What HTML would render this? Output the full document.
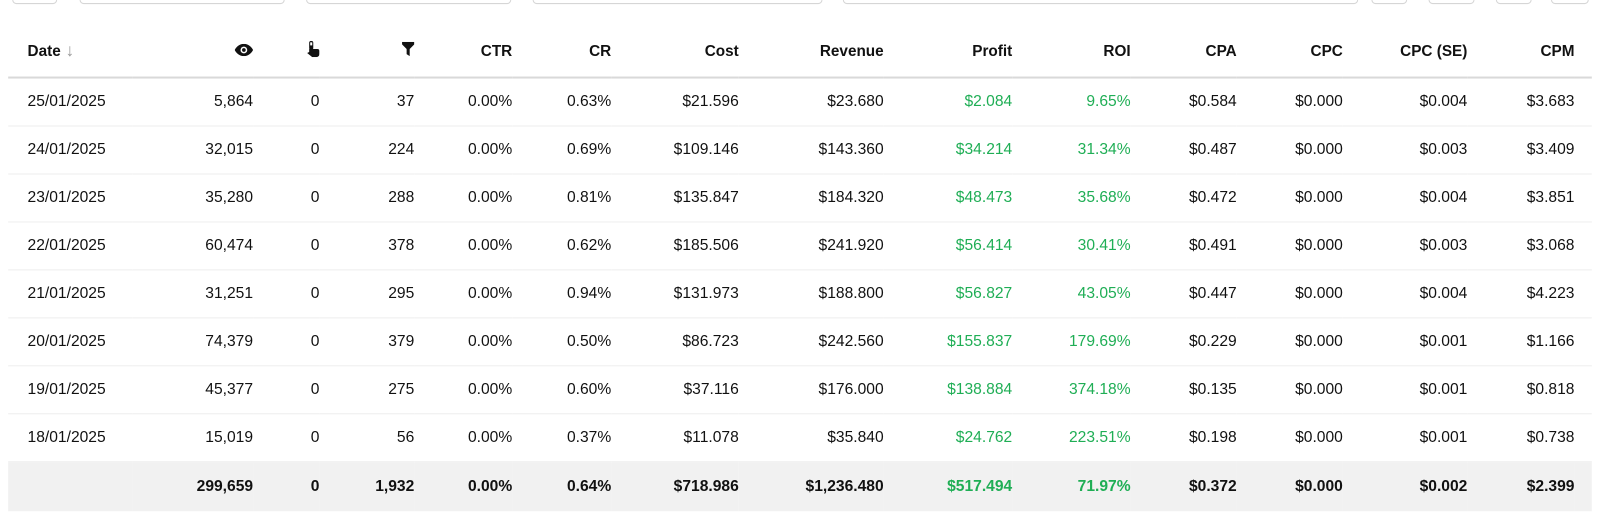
<!DOCTYPE html><html><head><meta charset="utf-8"><style>
body{margin:0;width:1600px;height:512px;background:#fff;font-family:"Liberation Sans",Arial,sans-serif;position:relative;overflow:hidden}
#w{position:absolute;left:0;top:0;width:1568px;height:502px;transform:scale(1.0204);transform-origin:0 0}
.box{position:absolute;top:-20px;height:22px;border:1px solid #d6d6d6;border-radius:4px;background:#fff}
table{position:absolute;left:8px;top:25px;border-collapse:collapse;table-layout:fixed;width:1552px;font-size:15.3px;color:#111}
td,th{padding:0;text-align:right;white-space:nowrap}
th{height:50px;font-weight:bold;font-size:15px;border-bottom:2px solid #d9d9d9}
td{height:46px;border-bottom:1px solid #eee}
.d{text-align:left;padding-left:19px}
.g{color:#1fae55}
tr.f td{background:#f1f1f1;font-weight:bold;height:48px;border:none}
</style></head><body><div id="w">
<div class="box" style="left:12px;width:42px"></div>
<div class="box" style="left:78px;width:199px"></div>
<div class="box" style="left:300px;width:199px"></div>
<div class="box" style="left:522px;width:282px"></div>
<div class="box" style="left:826px;width:503px"></div>
<div class="box" style="left:1344px;width:33px"></div>
<div class="box" style="left:1400px;width:43px"></div>
<div class="box" style="left:1466px;width:33px"></div>
<div class="box" style="left:1520px;width:35px"></div>
<table>
<colgroup><col style="width:122px"><col style="width:118px"><col style="width:65px"><col style="width:93px"><col style="width:96px"><col style="width:97px"><col style="width:125px"><col style="width:142px"><col style="width:126px"><col style="width:116px"><col style="width:104px"><col style="width:104px"><col style="width:122px"><col style="width:105px"><col style="width:17px"></colgroup>
<tr><th class="d">Date<span style="color:#999;font-weight:normal;font-size:17px"> ↓</span></th>
<th><svg width="18" height="12" viewBox="0 0 18 12"><path d="M9 0C4 0 1 4 0 6c1 2 4 6 9 6s8-4 9-6c-1-2-4-6-9-6z" fill="#111"/><circle cx="9" cy="6" r="3.3" fill="#fff"/><circle cx="9" cy="6" r="1.8" fill="#111"/></svg></th>
<th><svg width="12" height="16" viewBox="0 0 12 16"><rect x="2" y="0" width="4" height="9" rx="2" fill="#111"/><rect x="3" y="1.5" width="2" height="3" fill="#fff"/><path d="M2 8h8a2 2 0 0 1 2 2v3a3 3 0 0 1-3 3H5L0 12l2-1z" fill="#111"/></svg></th>
<th><svg width="12" height="14" viewBox="0 0 12 14"><path d="M0 0h12v2.5L7.5 7v7L4.5 12V7L0 2.5z" fill="#111"/></svg></th>
<th>CTR</th><th>CR</th><th>Cost</th><th>Revenue</th><th>Profit</th><th>ROI</th><th>CPA</th><th>CPC</th><th>CPC (SE)</th><th>CPM</th><th></th></tr>
<tr><td class="d">25/01/2025</td><td>5,864</td><td>0</td><td>37</td><td>0.00%</td><td>0.63%</td><td>$21.596</td><td>$23.680</td><td class="g">$2.084</td><td class="g">9.65%</td><td>$0.584</td><td>$0.000</td><td>$0.004</td><td>$3.683</td><td></td></tr>
<tr><td class="d">24/01/2025</td><td>32,015</td><td>0</td><td>224</td><td>0.00%</td><td>0.69%</td><td>$109.146</td><td>$143.360</td><td class="g">$34.214</td><td class="g">31.34%</td><td>$0.487</td><td>$0.000</td><td>$0.003</td><td>$3.409</td><td></td></tr>
<tr><td class="d">23/01/2025</td><td>35,280</td><td>0</td><td>288</td><td>0.00%</td><td>0.81%</td><td>$135.847</td><td>$184.320</td><td class="g">$48.473</td><td class="g">35.68%</td><td>$0.472</td><td>$0.000</td><td>$0.004</td><td>$3.851</td><td></td></tr>
<tr><td class="d">22/01/2025</td><td>60,474</td><td>0</td><td>378</td><td>0.00%</td><td>0.62%</td><td>$185.506</td><td>$241.920</td><td class="g">$56.414</td><td class="g">30.41%</td><td>$0.491</td><td>$0.000</td><td>$0.003</td><td>$3.068</td><td></td></tr>
<tr><td class="d">21/01/2025</td><td>31,251</td><td>0</td><td>295</td><td>0.00%</td><td>0.94%</td><td>$131.973</td><td>$188.800</td><td class="g">$56.827</td><td class="g">43.05%</td><td>$0.447</td><td>$0.000</td><td>$0.004</td><td>$4.223</td><td></td></tr>
<tr><td class="d">20/01/2025</td><td>74,379</td><td>0</td><td>379</td><td>0.00%</td><td>0.50%</td><td>$86.723</td><td>$242.560</td><td class="g">$155.837</td><td class="g">179.69%</td><td>$0.229</td><td>$0.000</td><td>$0.001</td><td>$1.166</td><td></td></tr>
<tr><td class="d">19/01/2025</td><td>45,377</td><td>0</td><td>275</td><td>0.00%</td><td>0.60%</td><td>$37.116</td><td>$176.000</td><td class="g">$138.884</td><td class="g">374.18%</td><td>$0.135</td><td>$0.000</td><td>$0.001</td><td>$0.818</td><td></td></tr>
<tr><td class="d">18/01/2025</td><td>15,019</td><td>0</td><td>56</td><td>0.00%</td><td>0.37%</td><td>$11.078</td><td>$35.840</td><td class="g">$24.762</td><td class="g">223.51%</td><td>$0.198</td><td>$0.000</td><td>$0.001</td><td>$0.738</td><td></td></tr>
<tr class="f"><td></td><td>299,659</td><td>0</td><td>1,932</td><td>0.00%</td><td>0.64%</td><td>$718.986</td><td>$1,236.480</td><td class="g">$517.494</td><td class="g">71.97%</td><td>$0.372</td><td>$0.000</td><td>$0.002</td><td>$2.399</td><td></td></tr>
</table>
</div></body></html>
